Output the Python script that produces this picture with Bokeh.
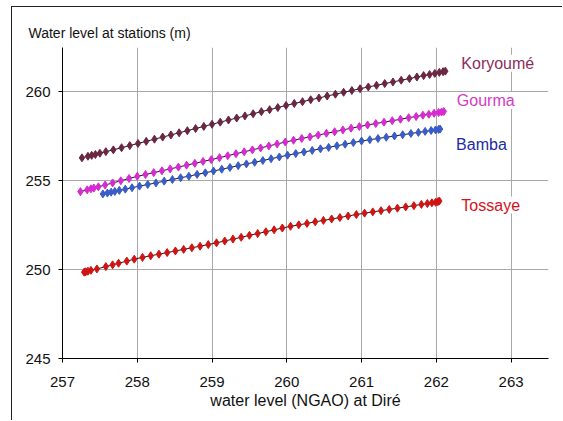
from bokeh.plotting import figure
from bokeh.models import Range1d, FixedTicker, Label
from bokeh.embed import file_html
from bokeh.resources import INLINE

# ---- data ----
kor_x = [257.26, 257.34, 257.39, 257.44, 257.50, 257.58, 257.68, 257.79, 257.90, 258.01,
         258.12, 258.23, 258.34, 258.45, 258.56, 258.67, 258.78, 258.89, 259.00, 259.11,
         259.22, 259.33, 259.44, 259.55, 259.66, 259.77, 259.88, 259.99, 260.10, 260.21,
         260.32, 260.43, 260.54, 260.65, 260.76, 260.87, 260.98, 261.09, 261.20, 261.31,
         261.42, 261.53, 261.64, 261.74, 261.83, 261.91, 261.98, 262.04, 262.09, 262.12]
kor_y = [256.29, 256.38, 256.43, 256.48, 256.55, 256.64, 256.74, 256.86, 256.98, 257.10,
         257.22, 257.34, 257.46, 257.58, 257.70, 257.82, 257.94, 258.06, 258.18, 258.30,
         258.42, 258.53, 258.65, 258.77, 258.89, 259.00, 259.12, 259.24, 259.35, 259.45,
         259.56, 259.66, 259.77, 259.87, 259.98, 260.08, 260.18, 260.28, 260.37, 260.47,
         260.56, 260.66, 260.75, 260.84, 260.92, 260.98, 261.04, 261.10, 261.14, 261.17]

gou_x = [257.24, 257.33, 257.38, 257.42, 257.48, 257.57, 257.67, 257.78, 257.89, 258.00,
         258.11, 258.22, 258.33, 258.44, 258.55, 258.66, 258.77, 258.88, 258.99, 259.10,
         259.21, 259.32, 259.43, 259.54, 259.65, 259.76, 259.87, 259.98, 260.09, 260.20,
         260.31, 260.42, 260.53, 260.64, 260.75, 260.86, 260.97, 261.08, 261.19, 261.30,
         261.41, 261.52, 261.63, 261.73, 261.82, 261.90, 261.97, 262.03, 262.07, 262.10]
gou_y = [254.39, 254.49, 254.55, 254.59, 254.66, 254.76, 254.88, 255.00, 255.13, 255.25,
         255.35, 255.46, 255.56, 255.67, 255.77, 255.88, 255.98, 256.09, 256.19, 256.30,
         256.41, 256.52, 256.63, 256.74, 256.85, 256.96, 257.07, 257.18, 257.28, 257.38,
         257.47, 257.57, 257.67, 257.76, 257.86, 257.96, 258.05, 258.14, 258.22, 258.30,
         258.38, 258.46, 258.55, 258.62, 258.69, 258.74, 258.80, 258.84, 258.87, 258.90]

bam_x = [257.54, 257.60, 257.65, 257.70, 257.76, 257.84, 257.93, 258.03, 258.14, 258.25,
         258.36, 258.47, 258.58, 258.69, 258.80, 258.91, 259.02, 259.13, 259.24, 259.35,
         259.46, 259.57, 259.68, 259.79, 259.90, 260.01, 260.12, 260.23, 260.34, 260.45,
         260.56, 260.67, 260.78, 260.89, 261.00, 261.11, 261.22, 261.33, 261.44, 261.55,
         261.66, 261.76, 261.85, 261.93, 261.99, 262.03, 262.05]
bam_y = [254.26, 254.31, 254.36, 254.40, 254.46, 254.53, 254.61, 254.70, 254.79, 254.88,
         254.98, 255.07, 255.17, 255.26, 255.36, 255.45, 255.55, 255.65, 255.75, 255.85,
         255.95, 256.04, 256.14, 256.24, 256.34, 256.44, 256.53, 256.62, 256.71, 256.80,
         256.88, 256.97, 257.06, 257.15, 257.24, 257.31, 257.38, 257.45, 257.52, 257.59,
         257.66, 257.72, 257.78, 257.83, 257.86, 257.89, 257.91]

tos_x = [257.29, 257.31, 257.34, 257.38, 257.46, 257.58, 257.67, 257.75, 257.86, 257.96,
         258.07, 258.18, 258.29, 258.40, 258.51, 258.62, 258.73, 258.84, 258.95, 259.06,
         259.17, 259.28, 259.39, 259.50, 259.61, 259.72, 259.83, 259.94, 260.05, 260.16,
         260.27, 260.38, 260.49, 260.60, 260.71, 260.82, 260.93, 261.04, 261.15, 261.26,
         261.37, 261.48, 261.59, 261.70, 261.80, 261.88, 261.94, 261.99, 262.02, 262.04]
tos_y = [249.86, 249.88, 249.91, 249.96, 250.04, 250.17, 250.27, 250.36, 250.48, 250.59,
         250.69, 250.78, 250.87, 250.96, 251.05, 251.14, 251.23, 251.32, 251.41, 251.51,
         251.61, 251.72, 251.82, 251.93, 252.03, 252.13, 252.24, 252.34, 252.44, 252.52,
         252.60, 252.69, 252.77, 252.85, 252.93, 253.02, 253.10, 253.18, 253.25, 253.32,
         253.39, 253.46, 253.53, 253.60, 253.67, 253.72, 253.76, 253.79, 253.82, 253.86]

x_ticks = [257, 258, 259, 260, 261, 262, 263]
y_ticks = [245, 250, 255, 260]

series = [
    ("Koryoumé", kor_x, kor_y, "#6b2642", "#8a2d5c", 16, 8),
    ("Gourma", gou_x, gou_y, "#d62bd0", "#d23cc4", 13, 11),
    ("Bamba", bam_x, bam_y, "#3a5cc6", "#1c2ca2", 16, -15),
    ("Tossaye", tos_x, tos_y, "#cf1414", "#d4101a", 22, -4),
]

FONT = "Liberation Sans"

p = figure(width=551, height=414, output_backend="svg", toolbar_location=None,
           x_range=Range1d(257, 263.5), y_range=Range1d(245, 262.5),
           min_border_left=50, min_border_right=15, min_border_top=40, min_border_bottom=63,
           title="Water level at stations (m)")
p.styles = {"margin-left": "12px", "margin-top": "7px", "box-shadow": "-1px -1px 0 #222"}
p.outline_line_color = None
p.background_fill_color = "white"
p.border_fill_color = "white"

p.title.text_font = FONT
p.title.text_font_size = "14px"
p.title.text_font_style = "normal"
p.title.text_color = "#111111"
p.title.align = "left"
p.title.offset = -34
p.title.vertical_align = "top"

p.xaxis.ticker = FixedTicker(ticks=x_ticks)
p.yaxis.ticker = FixedTicker(ticks=y_ticks)
for ax in (p.xaxis, p.yaxis):
    ax.axis_line_color = "black"
    ax.axis_line_width = 1
    ax.major_tick_line_color = "black"
    ax.major_tick_in = 0
    ax.major_tick_out = 4
    ax.minor_tick_line_color = None
    ax.major_label_text_font = FONT
    ax.major_label_text_font_size = "15px"
    ax.major_label_text_color = "#111111"
p.xaxis.major_label_standoff = 14
p.yaxis.major_label_standoff = 8
p.xaxis.axis_label = "water level (NGAO) at Diré"
p.xaxis.axis_label_text_font = FONT
p.xaxis.axis_label_text_font_size = "16px"
p.xaxis.axis_label_text_font_style = "normal"
p.xaxis.axis_label_text_color = "#111111"
p.xaxis.axis_label_standoff = 2

p.grid.grid_line_color = "#a8a8a8"
p.grid.grid_line_width = 1

for name, xs, ys, mcol, tcol, dx, dy in series:
    p.line(xs, ys, line_color="#1a1a1a", line_width=1)
    p.scatter(xs, ys, marker="diamond", size=8, fill_color=mcol, line_color=mcol)
    p.add_layout(Label(x=xs[-1], y=ys[-1], x_offset=dx, y_offset=dy, text=name,
                       text_font=FONT, text_font_size="16px", text_color=tcol,
                       text_baseline="middle", text_align="left",
                       background_fill_color="white"))

open("out.html", "w").write(file_html(p, INLINE))
